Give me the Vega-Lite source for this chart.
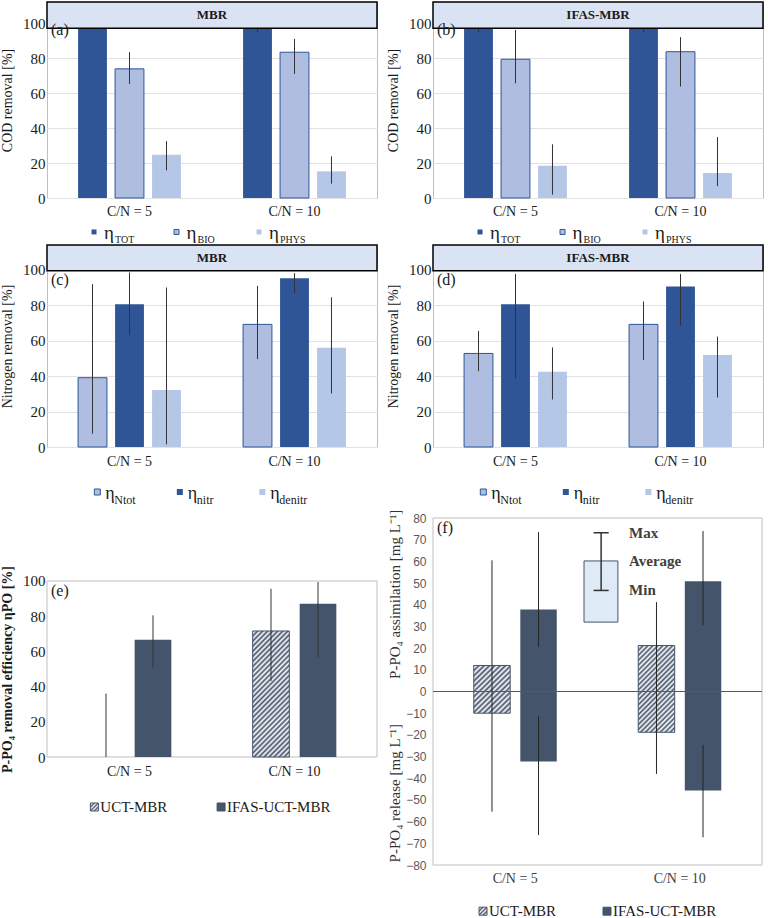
{
"$schema": "https://vega.github.io/schema/vega-lite/v6.json",
"padding": {"left": 0, "top": 0, "right": 0, "bottom": 0},
"background": "#ffffff",
"config": {
  "view": {"stroke": "#bfbfbf", "strokeWidth": 1},
  "axis": {"labelFont": "Liberation Serif", "labelFontSize": 15, "labelColor": "#1a1a1a", "titleFont": "Liberation Serif", "titleFontSize": 14, "titleFontWeight": "normal", "titleColor": "#1a1a1a", "ticks": false, "domain": false, "gridColor": "#e2e2e2", "labelOverlap": false, "labelFlush": false},
  "axisX": {"labelFontSize": 14, "labelAngle": 0, "grid": false},
  "text": {"font": "Liberation Serif", "color": "#1a1a1a"},
  "title": {"font": "Liberation Serif", "fontSize": 16, "fontWeight": "normal", "color": "#1a1a1a", "anchor": "start", "frame": "group", "baseline": "alphabetic", "dx": 4}
},
"datasets": {
  "cod": [
    {"reactor":"MBR","cn":"C/N = 5","series":"TOT","value":98.0,"lo":96.5,"hi":99.5},
    {"reactor":"MBR","cn":"C/N = 5","series":"BIO","value":73.8,"lo":65.2,"hi":83.3},
    {"reactor":"MBR","cn":"C/N = 5","series":"PHYS","value":24.7,"lo":15.8,"hi":32.5},
    {"reactor":"MBR","cn":"C/N = 10","series":"TOT","value":98.0,"lo":94.7,"hi":99.8},
    {"reactor":"MBR","cn":"C/N = 10","series":"BIO","value":83.3,"lo":70.9,"hi":90.9},
    {"reactor":"MBR","cn":"C/N = 10","series":"PHYS","value":15.2,"lo":8.2,"hi":23.8},
    {"reactor":"IFAS-MBR","cn":"C/N = 5","series":"TOT","value":98.5,"lo":94.7,"hi":100},
    {"reactor":"IFAS-MBR","cn":"C/N = 5","series":"BIO","value":79.3,"lo":65.5,"hi":96.0},
    {"reactor":"IFAS-MBR","cn":"C/N = 5","series":"PHYS","value":18.5,"lo":1.9,"hi":30.7},
    {"reactor":"IFAS-MBR","cn":"C/N = 10","series":"TOT","value":98.5,"lo":94.7,"hi":100},
    {"reactor":"IFAS-MBR","cn":"C/N = 10","series":"BIO","value":83.6,"lo":63.7,"hi":91.9},
    {"reactor":"IFAS-MBR","cn":"C/N = 10","series":"PHYS","value":14.3,"lo":6.8,"hi":34.8}
  ],
  "nitro": [
    {"reactor":"MBR","cn":"C/N = 5","series":"Ntot","value":39.1,"lo":7.5,"hi":91.9},
    {"reactor":"MBR","cn":"C/N = 5","series":"nitr","value":80.6,"lo":63.2,"hi":98.5},
    {"reactor":"MBR","cn":"C/N = 5","series":"denitr","value":32.1,"lo":1.5,"hi":90.0},
    {"reactor":"MBR","cn":"C/N = 10","series":"Ntot","value":69.2,"lo":49.6,"hi":90.9},
    {"reactor":"MBR","cn":"C/N = 10","series":"nitr","value":95.3,"lo":86.8,"hi":98.1},
    {"reactor":"MBR","cn":"C/N = 10","series":"denitr","value":56.0,"lo":30.2,"hi":84.5},
    {"reactor":"IFAS-MBR","cn":"C/N = 5","series":"Ntot","value":52.8,"lo":42.8,"hi":65.5},
    {"reactor":"IFAS-MBR","cn":"C/N = 5","series":"nitr","value":80.6,"lo":38.7,"hi":97.7},
    {"reactor":"IFAS-MBR","cn":"C/N = 5","series":"denitr","value":42.5,"lo":26.8,"hi":56.2},
    {"reactor":"IFAS-MBR","cn":"C/N = 10","series":"Ntot","value":69.2,"lo":49.1,"hi":82.1},
    {"reactor":"IFAS-MBR","cn":"C/N = 10","series":"nitr","value":90.6,"lo":68.3,"hi":97.7},
    {"reactor":"IFAS-MBR","cn":"C/N = 10","series":"denitr","value":51.9,"lo":27.9,"hi":62.3}
  ],
  "peff": [
    {"cn":"C/N = 5","series":"UCT-MBR","value":0,"lo":0,"hi":36.0},
    {"cn":"C/N = 5","series":"IFAS-UCT-MBR","value":66.6,"lo":50.7,"hi":80.5},
    {"cn":"C/N = 10","series":"UCT-MBR","value":71.6,"lo":43.2,"hi":95.6},
    {"cn":"C/N = 10","series":"IFAS-UCT-MBR","value":87.1,"lo":56.8,"hi":99.4}
  ],
  "pflux": [
    {"cn":"C/N = 5","series":"UCT-MBR","assim":12.0,"assimLo":0,"assimHi":60.5,"release":-10.0,"releaseLo":0,"releaseHi":-55.4},
    {"cn":"C/N = 5","series":"IFAS-UCT-MBR","assim":37.8,"assimLo":20.5,"assimHi":73.5,"release":-32.3,"releaseLo":-11.5,"releaseHi":-66.2},
    {"cn":"C/N = 10","series":"UCT-MBR","assim":21.2,"assimLo":0,"assimHi":41.2,"release":-18.8,"releaseLo":0,"releaseHi":-38.0},
    {"cn":"C/N = 10","series":"IFAS-UCT-MBR","assim":50.8,"assimLo":30.5,"assimHi":74.0,"release":-45.7,"releaseLo":-24.6,"releaseHi":-67.2}
  ],
  "key": [
    {"stat":"Max","v":73.2},
    {"stat":"Average","v":60.2,"base":32},
    {"stat":"Min","v":46.6}
  ]
},
"spacing": 7,
"resolve": {"scale": {"xOffset": "independent", "fill": "independent"}},
"hconcat": [
 {"bounds": "flush", "spacing": 47, "resolve": {"scale": {"xOffset": "independent", "fill": "independent"}}, "vconcat": [
   {
    "width": 330, "height": 196,
    "title": {"text": "(a)", "offset": -37},
    "layer": [
     {"data": {"name": "cod"}, "transform": [{"filter": "datum.reactor === 'MBR'"}],
      "layer": [
       {"mark": {"type": "bar", "strokeWidth": 1},
        "encoding": {
          "x": {"field": "cn", "type": "nominal", "scale": {"domain": ["C/N = 5", "C/N = 10"], "paddingInner": 0, "paddingOuter": 0}, "axis": {"title": null, "labelPadding": 6}},
          "xOffset": {"field": "series", "type": "nominal", "scale": {"domain": ["TOT","BIO","PHYS"], "paddingInner": 0.22, "paddingOuter": 0.84}},
          "y": {"field": "value", "type": "quantitative", "scale": {"domain": [0, 112], "nice": false}, "axis": {"values": [0,20,40,60,80,100], "tickCount": 30, "title": "COD removal [%]", "titlePadding": 8, "labelPadding": 2, "labelOverlap": false}},
          "fill": {"field": "series", "type": "nominal", "scale": {"domain": ["TOT","BIO","PHYS"], "range": ["#2f5597","#aebde0","#b4c7e7"]}, "legend": null},
          "stroke": {"condition": {"test": "datum.series === 'BIO'", "value": "#2f5597"}, "value": "transparent"}
        }},
       {"mark": {"type": "rule", "color": "#333333", "strokeWidth": 1},
        "encoding": {
          "x": {"field": "cn", "type": "nominal", "scale": {"domain": ["C/N = 5", "C/N = 10"]}},
          "xOffset": {"field": "series", "type": "nominal", "scale": {"domain": ["TOT","BIO","PHYS"]}},
          "y": {"field": "lo", "type": "quantitative"}, "y2": {"field": "hi"}
        }},
       {"transform": [{"aggregate": [{"op": "count", "as": "n"}], "groupby": ["reactor"]}],
        "layer": [
         {"mark": {"type": "rect", "fill": "#dae3f3", "stroke": "#000000", "strokeWidth": 1.5}, "encoding": {"y": {"datum": 97}, "y2": {"datum": 112}}},
         {"mark": {"type": "text", "fontWeight": "bold", "fontSize": 13, "baseline": "middle"}, "encoding": {"y": {"datum": 104.5}, "text": {"field": "reactor"}}}
        ]}
      ]},
     {"data": {"name": "cod"}, "transform": [{"filter": "datum.reactor === 'MBR' && datum.cn === 'C/N = 5'"}],
      "encoding": {
        "x": {"field": "series", "type": "nominal", "scale": {"type": "point", "domain": ["TOT","BIO","PHYS"], "padding": 1.268, "align": 0.285}, "axis": null},
        "y": {"datum": -19.4, "type": "quantitative", "scale": {"domain": [0, 112], "nice": false}, "axis": null}
      },
      "layer": [
       {"mark": {"type": "point", "shape": "square", "filled": true, "size": 25, "opacity": 1, "strokeWidth": 1},
        "encoding": {"fill": {"field": "series", "type": "nominal", "scale": {"domain": ["TOT","BIO","PHYS"], "range": ["#2f5597","#aebde0","#b4c7e7"]}, "legend": null},
                     "stroke": {"condition": {"test": "datum.series === 'BIO'", "value": "#2f5597"}, "value": "transparent"}}},
       {"mark": {"type": "text", "text": "η", "align": "left", "baseline": "alphabetic", "dx": 10, "dy": 7, "fontSize": 19}},
       {"mark": {"type": "text", "align": "left", "baseline": "alphabetic", "dx": 21, "dy": 11, "fontSize": 10}, "encoding": {"text": {"field": "series"}}}
      ]}
    ],
    "resolve": {"scale": {"x": "independent", "y": "independent"}}
   },
   {
    "width": 330, "height": 202,
    "title": {"text": "(c)", "offset": -44},
    "layer": [
     {"data": {"name": "nitro"}, "transform": [{"filter": "datum.reactor === 'MBR'"}],
      "layer": [
       {"mark": {"type": "bar", "strokeWidth": 1},
        "encoding": {
          "x": {"field": "cn", "type": "nominal", "scale": {"domain": ["C/N = 5", "C/N = 10"], "paddingInner": 0, "paddingOuter": 0}, "axis": {"title": null, "labelPadding": 7}},
          "xOffset": {"field": "series", "type": "nominal", "scale": {"domain": ["Ntot","nitr","denitr"], "paddingInner": 0.22, "paddingOuter": 0.84}},
          "y": {"field": "value", "type": "quantitative", "scale": {"domain": [0, 114], "nice": false}, "axis": {"values": [0,20,40,60,80,100], "tickCount": 30, "title": "Nitrogen removal [%]", "titlePadding": 8, "labelPadding": 2, "labelOverlap": false}},
          "fill": {"field": "series", "type": "nominal", "scale": {"domain": ["Ntot","nitr","denitr"], "range": ["#aebde0","#2f5597","#b4c7e7"]}, "legend": null},
          "stroke": {"condition": {"test": "datum.series === 'Ntot'", "value": "#2f5597"}, "value": "transparent"}
        }},
       {"mark": {"type": "rule", "color": "#333333", "strokeWidth": 1},
        "encoding": {
          "x": {"field": "cn", "type": "nominal", "scale": {"domain": ["C/N = 5", "C/N = 10"]}},
          "xOffset": {"field": "series", "type": "nominal", "scale": {"domain": ["Ntot","nitr","denitr"]}},
          "y": {"field": "lo", "type": "quantitative"}, "y2": {"field": "hi"}
        }},
       {"transform": [{"aggregate": [{"op": "count", "as": "n"}], "groupby": ["reactor"]}],
        "layer": [
         {"mark": {"type": "rect", "fill": "#dae3f3", "stroke": "#000000", "strokeWidth": 1.5}, "encoding": {"y": {"datum": 99.5}, "y2": {"datum": 114}}},
         {"mark": {"type": "text", "fontWeight": "bold", "fontSize": 13, "baseline": "middle"}, "encoding": {"y": {"datum": 106.75}, "text": {"field": "reactor"}}}
        ]}
      ]},
     {"data": {"name": "nitro"}, "transform": [{"filter": "datum.reactor === 'MBR' && datum.cn === 'C/N = 5'"}],
      "encoding": {
        "x": {"field": "series", "type": "nominal", "scale": {"type": "point", "domain": ["Ntot","nitr","denitr"], "padding": 1.157, "align": 0.305}, "axis": null},
        "y": {"datum": -25.4, "type": "quantitative", "scale": {"domain": [0, 114], "nice": false}, "axis": null}
      },
      "layer": [
       {"mark": {"type": "point", "shape": "square", "filled": true, "size": 36, "opacity": 1, "strokeWidth": 1},
        "encoding": {"fill": {"field": "series", "type": "nominal", "scale": {"domain": ["Ntot","nitr","denitr"], "range": ["#aebde0","#2f5597","#b4c7e7"]}, "legend": null},
                     "stroke": {"condition": {"test": "datum.series === 'Ntot'", "value": "#2f5597"}, "value": "transparent"}}},
       {"mark": {"type": "text", "text": "η", "align": "left", "baseline": "alphabetic", "dx": 8, "dy": 7, "fontSize": 18}},
       {"mark": {"type": "text", "align": "left", "baseline": "alphabetic", "dx": 17, "dy": 12, "fontSize": 12}, "encoding": {"text": {"field": "series"}}}
      ]}
    ],
    "resolve": {"scale": {"x": "independent", "y": "independent"}}
   },
  {
   "width": 330, "height": 263,
   "view": {"stroke": null},
   "title": {"text": "(e)", "offset": -105},
   "layer": [
    {"data": {"name": "peff"},
     "layer": [
      {"transform": [{"aggregate": [{"op": "count", "as": "n"}]}],
       "mark": {"type": "rect", "fill": "transparent", "stroke": "#bfbfbf", "strokeWidth": 1},
       "encoding": {"y": {"datum": 0}, "y2": {"datum": 100}}},
      {"transform": [{"filter": "datum.series === 'UCT-MBR'"}],
       "mark": {"type": "bar", "strokeWidth": 1,
         "fill": {"gradient": "linear", "x1": 0, "y1": 0, "x2": 0.35, "y2": 1.19, "stops": [{"offset":0,"color":"#44546a"},{"offset":0.015625,"color":"#ffffff"},{"offset":0.03125,"color":"#44546a"},{"offset":0.046875,"color":"#ffffff"},{"offset":0.0625,"color":"#44546a"},{"offset":0.078125,"color":"#ffffff"},{"offset":0.09375,"color":"#44546a"},{"offset":0.109375,"color":"#ffffff"},{"offset":0.125,"color":"#44546a"},{"offset":0.140625,"color":"#ffffff"},{"offset":0.15625,"color":"#44546a"},{"offset":0.171875,"color":"#ffffff"},{"offset":0.1875,"color":"#44546a"},{"offset":0.203125,"color":"#ffffff"},{"offset":0.21875,"color":"#44546a"},{"offset":0.234375,"color":"#ffffff"},{"offset":0.25,"color":"#44546a"},{"offset":0.265625,"color":"#ffffff"},{"offset":0.28125,"color":"#44546a"},{"offset":0.296875,"color":"#ffffff"},{"offset":0.3125,"color":"#44546a"},{"offset":0.328125,"color":"#ffffff"},{"offset":0.34375,"color":"#44546a"},{"offset":0.359375,"color":"#ffffff"},{"offset":0.375,"color":"#44546a"},{"offset":0.390625,"color":"#ffffff"},{"offset":0.40625,"color":"#44546a"},{"offset":0.421875,"color":"#ffffff"},{"offset":0.4375,"color":"#44546a"},{"offset":0.453125,"color":"#ffffff"},{"offset":0.46875,"color":"#44546a"},{"offset":0.484375,"color":"#ffffff"},{"offset":0.5,"color":"#44546a"},{"offset":0.515625,"color":"#ffffff"},{"offset":0.53125,"color":"#44546a"},{"offset":0.546875,"color":"#ffffff"},{"offset":0.5625,"color":"#44546a"},{"offset":0.578125,"color":"#ffffff"},{"offset":0.59375,"color":"#44546a"},{"offset":0.609375,"color":"#ffffff"},{"offset":0.625,"color":"#44546a"},{"offset":0.640625,"color":"#ffffff"},{"offset":0.65625,"color":"#44546a"},{"offset":0.671875,"color":"#ffffff"},{"offset":0.6875,"color":"#44546a"},{"offset":0.703125,"color":"#ffffff"},{"offset":0.71875,"color":"#44546a"},{"offset":0.734375,"color":"#ffffff"},{"offset":0.75,"color":"#44546a"},{"offset":0.765625,"color":"#ffffff"},{"offset":0.78125,"color":"#44546a"},{"offset":0.796875,"color":"#ffffff"},{"offset":0.8125,"color":"#44546a"},{"offset":0.828125,"color":"#ffffff"},{"offset":0.84375,"color":"#44546a"},{"offset":0.859375,"color":"#ffffff"},{"offset":0.875,"color":"#44546a"},{"offset":0.890625,"color":"#ffffff"},{"offset":0.90625,"color":"#44546a"},{"offset":0.921875,"color":"#ffffff"},{"offset":0.9375,"color":"#44546a"},{"offset":0.953125,"color":"#ffffff"},{"offset":0.96875,"color":"#44546a"},{"offset":0.984375,"color":"#ffffff"},{"offset":1,"color":"#44546a"}]}},
       "encoding": {
         "x": {"field": "cn", "type": "nominal", "scale": {"domain": ["C/N = 5", "C/N = 10"], "paddingInner": 0, "paddingOuter": 0}, "axis": {"title": null, "labelPadding": 7}},
         "xOffset": {"field": "series", "type": "nominal", "scale": {"domain": ["UCT-MBR","IFAS-UCT-MBR"], "paddingInner": 0.22, "paddingOuter": 0.865}},
         "y": {"field": "value", "type": "quantitative", "scale": {"domain": [0, 149.43], "nice": false}, "axis": {"values": [0,20,40,60,80,100], "tickCount": 30, "title": "P-PO₄ removal efficiency ηPO [%]", "titleFontWeight": "bold", "titlePadding": 8, "labelPadding": 2, "titleY": 175, "labelOverlap": false}},
         "stroke": {"condition": {"test": "datum.value > 0", "value": "#44546a"}, "value": "transparent"}
       }},
      {"transform": [{"filter": "datum.series === 'IFAS-UCT-MBR'"}],
       "mark": {"type": "bar", "fill": "#44546a"},
       "encoding": {
         "x": {"field": "cn", "type": "nominal", "scale": {"domain": ["C/N = 5", "C/N = 10"]}},
         "xOffset": {"field": "series", "type": "nominal", "scale": {"domain": ["UCT-MBR","IFAS-UCT-MBR"]}},
         "y": {"field": "value", "type": "quantitative"}
       }},
      {"mark": {"type": "rule", "color": "#333333", "strokeWidth": 1},
       "encoding": {
         "x": {"field": "cn", "type": "nominal", "scale": {"domain": ["C/N = 5", "C/N = 10"]}},
         "xOffset": {"field": "series", "type": "nominal", "scale": {"domain": ["UCT-MBR","IFAS-UCT-MBR"]}},
         "y": {"field": "lo", "type": "quantitative"}, "y2": {"field": "hi"}
       }}
     ]},
    {"data": {"name": "peff"}, "transform": [{"filter": "datum.cn === 'C/N = 5'"}],
     "encoding": {
       "x": {"field": "series", "type": "nominal", "scale": {"type": "point", "domain": ["UCT-MBR","IFAS-UCT-MBR"], "padding": 0.802, "align": 0.233}, "axis": null},
       "y": {"datum": -28.4, "type": "quantitative", "scale": {"domain": [0, 149.43], "nice": false}, "axis": null}
     },
     "layer": [
      {"mark": {"type": "point", "shape": "square", "filled": true, "size": 64, "opacity": 1, "stroke": "#44546a", "strokeWidth": 1},
       "encoding": {"fill": {"condition": {"test": "datum.series === 'UCT-MBR'", "value": {"gradient": "linear", "x1": 0, "y1": 0, "x2": 1, "y2": 1, "stops": [{"offset":0,"color":"#44546a"},{"offset":0.125,"color":"#ffffff"},{"offset":0.25,"color":"#44546a"},{"offset":0.375,"color":"#ffffff"},{"offset":0.5,"color":"#44546a"},{"offset":0.625,"color":"#ffffff"},{"offset":0.75,"color":"#44546a"},{"offset":0.875,"color":"#ffffff"},{"offset":1,"color":"#44546a"}]}}, "value": "#44546a"}}},
      {"mark": {"type": "text", "align": "left", "baseline": "middle", "dx": 6, "fontSize": 15}, "encoding": {"text": {"field": "series"}}}
     ]}
   ],
   "resolve": {"scale": {"x": "independent", "y": "independent"}}
  }
 ]},
 {"bounds": "flush", "spacing": 47, "resolve": {"scale": {"xOffset": "independent", "fill": "independent"}}, "vconcat": [
   {
    "width": 330, "height": 196,
    "title": {"text": "(b)", "offset": -37},
    "layer": [
     {"data": {"name": "cod"}, "transform": [{"filter": "datum.reactor === 'IFAS-MBR'"}],
      "layer": [
       {"mark": {"type": "bar", "strokeWidth": 1},
        "encoding": {
          "x": {"field": "cn", "type": "nominal", "scale": {"domain": ["C/N = 5", "C/N = 10"], "paddingInner": 0, "paddingOuter": 0}, "axis": {"title": null, "labelPadding": 6}},
          "xOffset": {"field": "series", "type": "nominal", "scale": {"domain": ["TOT","BIO","PHYS"], "paddingInner": 0.22, "paddingOuter": 0.84}},
          "y": {"field": "value", "type": "quantitative", "scale": {"domain": [0, 112], "nice": false}, "axis": {"values": [0,20,40,60,80,100], "tickCount": 30, "title": "COD removal [%]", "titlePadding": 8, "labelPadding": 2, "labelOverlap": false}},
          "fill": {"field": "series", "type": "nominal", "scale": {"domain": ["TOT","BIO","PHYS"], "range": ["#2f5597","#aebde0","#b4c7e7"]}, "legend": null},
          "stroke": {"condition": {"test": "datum.series === 'BIO'", "value": "#2f5597"}, "value": "transparent"}
        }},
       {"mark": {"type": "rule", "color": "#333333", "strokeWidth": 1},
        "encoding": {
          "x": {"field": "cn", "type": "nominal", "scale": {"domain": ["C/N = 5", "C/N = 10"]}},
          "xOffset": {"field": "series", "type": "nominal", "scale": {"domain": ["TOT","BIO","PHYS"]}},
          "y": {"field": "lo", "type": "quantitative"}, "y2": {"field": "hi"}
        }},
       {"transform": [{"aggregate": [{"op": "count", "as": "n"}], "groupby": ["reactor"]}],
        "layer": [
         {"mark": {"type": "rect", "fill": "#dae3f3", "stroke": "#000000", "strokeWidth": 1.5}, "encoding": {"y": {"datum": 97}, "y2": {"datum": 112}}},
         {"mark": {"type": "text", "fontWeight": "bold", "fontSize": 13, "baseline": "middle"}, "encoding": {"y": {"datum": 104.5}, "text": {"field": "reactor"}}}
        ]}
      ]},
     {"data": {"name": "cod"}, "transform": [{"filter": "datum.reactor === 'IFAS-MBR' && datum.cn === 'C/N = 5'"}],
      "encoding": {
        "x": {"field": "series", "type": "nominal", "scale": {"type": "point", "domain": ["TOT","BIO","PHYS"], "padding": 1.268, "align": 0.285}, "axis": null},
        "y": {"datum": -19.4, "type": "quantitative", "scale": {"domain": [0, 112], "nice": false}, "axis": null}
      },
      "layer": [
       {"mark": {"type": "point", "shape": "square", "filled": true, "size": 25, "opacity": 1, "strokeWidth": 1},
        "encoding": {"fill": {"field": "series", "type": "nominal", "scale": {"domain": ["TOT","BIO","PHYS"], "range": ["#2f5597","#aebde0","#b4c7e7"]}, "legend": null},
                     "stroke": {"condition": {"test": "datum.series === 'BIO'", "value": "#2f5597"}, "value": "transparent"}}},
       {"mark": {"type": "text", "text": "η", "align": "left", "baseline": "alphabetic", "dx": 10, "dy": 7, "fontSize": 19}},
       {"mark": {"type": "text", "align": "left", "baseline": "alphabetic", "dx": 21, "dy": 11, "fontSize": 10}, "encoding": {"text": {"field": "series"}}}
      ]}
    ],
    "resolve": {"scale": {"x": "independent", "y": "independent"}}
   },
   {
    "width": 330, "height": 202,
    "title": {"text": "(d)", "offset": -44},
    "layer": [
     {"data": {"name": "nitro"}, "transform": [{"filter": "datum.reactor === 'IFAS-MBR'"}],
      "layer": [
       {"mark": {"type": "bar", "strokeWidth": 1},
        "encoding": {
          "x": {"field": "cn", "type": "nominal", "scale": {"domain": ["C/N = 5", "C/N = 10"], "paddingInner": 0, "paddingOuter": 0}, "axis": {"title": null, "labelPadding": 7}},
          "xOffset": {"field": "series", "type": "nominal", "scale": {"domain": ["Ntot","nitr","denitr"], "paddingInner": 0.22, "paddingOuter": 0.84}},
          "y": {"field": "value", "type": "quantitative", "scale": {"domain": [0, 114], "nice": false}, "axis": {"values": [0,20,40,60,80,100], "tickCount": 30, "title": "Nitrogen removal [%]", "titlePadding": 8, "labelPadding": 2, "labelOverlap": false}},
          "fill": {"field": "series", "type": "nominal", "scale": {"domain": ["Ntot","nitr","denitr"], "range": ["#aebde0","#2f5597","#b4c7e7"]}, "legend": null},
          "stroke": {"condition": {"test": "datum.series === 'Ntot'", "value": "#2f5597"}, "value": "transparent"}
        }},
       {"mark": {"type": "rule", "color": "#333333", "strokeWidth": 1},
        "encoding": {
          "x": {"field": "cn", "type": "nominal", "scale": {"domain": ["C/N = 5", "C/N = 10"]}},
          "xOffset": {"field": "series", "type": "nominal", "scale": {"domain": ["Ntot","nitr","denitr"]}},
          "y": {"field": "lo", "type": "quantitative"}, "y2": {"field": "hi"}
        }},
       {"transform": [{"aggregate": [{"op": "count", "as": "n"}], "groupby": ["reactor"]}],
        "layer": [
         {"mark": {"type": "rect", "fill": "#dae3f3", "stroke": "#000000", "strokeWidth": 1.5}, "encoding": {"y": {"datum": 99.5}, "y2": {"datum": 114}}},
         {"mark": {"type": "text", "fontWeight": "bold", "fontSize": 13, "baseline": "middle"}, "encoding": {"y": {"datum": 106.75}, "text": {"field": "reactor"}}}
        ]}
      ]},
     {"data": {"name": "nitro"}, "transform": [{"filter": "datum.reactor === 'IFAS-MBR' && datum.cn === 'C/N = 5'"}],
      "encoding": {
        "x": {"field": "series", "type": "nominal", "scale": {"type": "point", "domain": ["Ntot","nitr","denitr"], "padding": 1.157, "align": 0.305}, "axis": null},
        "y": {"datum": -25.4, "type": "quantitative", "scale": {"domain": [0, 114], "nice": false}, "axis": null}
      },
      "layer": [
       {"mark": {"type": "point", "shape": "square", "filled": true, "size": 36, "opacity": 1, "strokeWidth": 1},
        "encoding": {"fill": {"field": "series", "type": "nominal", "scale": {"domain": ["Ntot","nitr","denitr"], "range": ["#aebde0","#2f5597","#b4c7e7"]}, "legend": null},
                     "stroke": {"condition": {"test": "datum.series === 'Ntot'", "value": "#2f5597"}, "value": "transparent"}}},
       {"mark": {"type": "text", "text": "η", "align": "left", "baseline": "alphabetic", "dx": 8, "dy": 7, "fontSize": 18}},
       {"mark": {"type": "text", "align": "left", "baseline": "alphabetic", "dx": 17, "dy": 12, "fontSize": 12}, "encoding": {"text": {"field": "series"}}}
      ]}
    ],
    "resolve": {"scale": {"x": "independent", "y": "independent"}}
   },
  {
   "width": 329, "height": 371,
   "view": {"stroke": null},
   "title": {"text": "(f)", "offset": -42},
   "layer": [
    {"data": {"name": "pflux"},
     "layer": [
      {"transform": [{"aggregate": [{"op": "count", "as": "n"}]}],
       "mark": {"type": "rect", "fill": "transparent", "stroke": "#bfbfbf", "strokeWidth": 1},
       "encoding": {"y": {"datum": -80}, "y2": {"datum": 80}}},
      {"transform": [{"filter": "datum.series === 'UCT-MBR'"}],
       "mark": {"type": "bar", "stroke": "#44546a", "strokeWidth": 1},
       "encoding": {
         "x": {"field": "cn", "type": "nominal", "scale": {"domain": ["C/N = 5", "C/N = 10"], "paddingInner": 0, "paddingOuter": 0}, "axis": {"title": null, "labelPadding": 6, "labelColor": "#404040"}},
         "xOffset": {"field": "series", "type": "nominal", "scale": {"domain": ["UCT-MBR","IFAS-UCT-MBR"], "paddingInner": 0.217, "paddingOuter": 0.875}},
         "y": {"field": "release", "type": "quantitative", "scale": {"domain": [-80, 91.07], "nice": false}, "axis": {"values": [-80,-70,-60,-50,-40,-30,-20,-10,0,10,20,30,40,50,60,70,80], "tickCount": 50, "title": "P-PO₄ release [mg L⁻¹]\u2003\u2003\u2003P-PO₄ assimilation [mg L⁻¹]", "titlePadding": 3, "labelPadding": 7, "labelFont": "Liberation Sans", "labelFontSize": 12, "labelColor": "#595959", "titleColor": "#333333", "titleFontSize": 15, "gridColor": "#d9d9d9", "titleY": 191.5, "labelOverlap": false}},
         "y2": {"field": "assim"},
         "fill": {"condition": {"test": "datum.cn === 'C/N = 5'", "value": {"gradient": "linear", "x1": 0, "y1": 0, "x2": 0.84, "y2": 1.12, "stops": [{"offset":0,"color":"#44546a"},{"offset":0.03125,"color":"#ffffff"},{"offset":0.0625,"color":"#44546a"},{"offset":0.09375,"color":"#ffffff"},{"offset":0.125,"color":"#44546a"},{"offset":0.15625,"color":"#ffffff"},{"offset":0.1875,"color":"#44546a"},{"offset":0.21875,"color":"#ffffff"},{"offset":0.25,"color":"#44546a"},{"offset":0.28125,"color":"#ffffff"},{"offset":0.3125,"color":"#44546a"},{"offset":0.34375,"color":"#ffffff"},{"offset":0.375,"color":"#44546a"},{"offset":0.40625,"color":"#ffffff"},{"offset":0.4375,"color":"#44546a"},{"offset":0.46875,"color":"#ffffff"},{"offset":0.5,"color":"#44546a"},{"offset":0.53125,"color":"#ffffff"},{"offset":0.5625,"color":"#44546a"},{"offset":0.59375,"color":"#ffffff"},{"offset":0.625,"color":"#44546a"},{"offset":0.65625,"color":"#ffffff"},{"offset":0.6875,"color":"#44546a"},{"offset":0.71875,"color":"#ffffff"},{"offset":0.75,"color":"#44546a"},{"offset":0.78125,"color":"#ffffff"},{"offset":0.8125,"color":"#44546a"},{"offset":0.84375,"color":"#ffffff"},{"offset":0.875,"color":"#44546a"},{"offset":0.90625,"color":"#ffffff"},{"offset":0.9375,"color":"#44546a"},{"offset":0.96875,"color":"#ffffff"},{"offset":1,"color":"#44546a"}]}},
                  "value": {"gradient": "linear", "x1": 0, "y1": 0, "x2": 0.51, "y2": 1.21, "stops": [{"offset":0,"color":"#44546a"},{"offset":0.02,"color":"#ffffff"},{"offset":0.04,"color":"#44546a"},{"offset":0.06,"color":"#ffffff"},{"offset":0.08,"color":"#44546a"},{"offset":0.1,"color":"#ffffff"},{"offset":0.12,"color":"#44546a"},{"offset":0.14,"color":"#ffffff"},{"offset":0.16,"color":"#44546a"},{"offset":0.18,"color":"#ffffff"},{"offset":0.2,"color":"#44546a"},{"offset":0.22,"color":"#ffffff"},{"offset":0.24,"color":"#44546a"},{"offset":0.26,"color":"#ffffff"},{"offset":0.28,"color":"#44546a"},{"offset":0.3,"color":"#ffffff"},{"offset":0.32,"color":"#44546a"},{"offset":0.34,"color":"#ffffff"},{"offset":0.36,"color":"#44546a"},{"offset":0.38,"color":"#ffffff"},{"offset":0.4,"color":"#44546a"},{"offset":0.42,"color":"#ffffff"},{"offset":0.44,"color":"#44546a"},{"offset":0.46,"color":"#ffffff"},{"offset":0.48,"color":"#44546a"},{"offset":0.5,"color":"#ffffff"},{"offset":0.52,"color":"#44546a"},{"offset":0.54,"color":"#ffffff"},{"offset":0.56,"color":"#44546a"},{"offset":0.58,"color":"#ffffff"},{"offset":0.6,"color":"#44546a"},{"offset":0.62,"color":"#ffffff"},{"offset":0.64,"color":"#44546a"},{"offset":0.66,"color":"#ffffff"},{"offset":0.68,"color":"#44546a"},{"offset":0.7,"color":"#ffffff"},{"offset":0.72,"color":"#44546a"},{"offset":0.74,"color":"#ffffff"},{"offset":0.76,"color":"#44546a"},{"offset":0.78,"color":"#ffffff"},{"offset":0.8,"color":"#44546a"},{"offset":0.82,"color":"#ffffff"},{"offset":0.84,"color":"#44546a"},{"offset":0.86,"color":"#ffffff"},{"offset":0.88,"color":"#44546a"},{"offset":0.9,"color":"#ffffff"},{"offset":0.92,"color":"#44546a"},{"offset":0.94,"color":"#ffffff"},{"offset":0.96,"color":"#44546a"},{"offset":0.98,"color":"#ffffff"},{"offset":1,"color":"#44546a"}]}}
       }},
      {"transform": [{"filter": "datum.series === 'IFAS-UCT-MBR'"}],
       "mark": {"type": "bar", "fill": "#44546a"},
       "encoding": {
         "x": {"field": "cn", "type": "nominal", "scale": {"domain": ["C/N = 5", "C/N = 10"]}},
         "xOffset": {"field": "series", "type": "nominal", "scale": {"domain": ["UCT-MBR","IFAS-UCT-MBR"]}},
         "y": {"field": "release", "type": "quantitative"}, "y2": {"field": "assim"}
       }},
      {"transform": [{"aggregate": [{"op": "count", "as": "n"}]}],
       "mark": {"type": "rule", "color": "#595959", "strokeWidth": 1},
       "encoding": {"y": {"datum": 0}}},
      {"mark": {"type": "rule", "color": "#262626", "strokeWidth": 1},
       "encoding": {
         "x": {"field": "cn", "type": "nominal", "scale": {"domain": ["C/N = 5", "C/N = 10"]}},
         "xOffset": {"field": "series", "type": "nominal", "scale": {"domain": ["UCT-MBR","IFAS-UCT-MBR"]}},
         "y": {"field": "assimLo", "type": "quantitative"}, "y2": {"field": "assimHi"}
       }},
      {"mark": {"type": "rule", "color": "#262626", "strokeWidth": 1},
       "encoding": {
         "x": {"field": "cn", "type": "nominal", "scale": {"domain": ["C/N = 5", "C/N = 10"]}},
         "xOffset": {"field": "series", "type": "nominal", "scale": {"domain": ["UCT-MBR","IFAS-UCT-MBR"]}},
         "y": {"field": "releaseLo", "type": "quantitative"}, "y2": {"field": "releaseHi"}
       }}
     ]},
    {"data": {"name": "pflux"}, "transform": [{"filter": "datum.cn === 'C/N = 5'"}],
     "encoding": {
       "x": {"field": "series", "type": "nominal", "scale": {"type": "point", "domain": ["UCT-MBR","IFAS-UCT-MBR"], "padding": 0.827, "align": 0.244}, "axis": null},
       "y": {"datum": -101.3, "type": "quantitative", "scale": {"domain": [-80, 91.07], "nice": false}, "axis": null}
     },
     "layer": [
      {"mark": {"type": "point", "shape": "square", "filled": true, "size": 64, "opacity": 1, "stroke": "#44546a", "strokeWidth": 1},
       "encoding": {"fill": {"condition": {"test": "datum.series === 'UCT-MBR'", "value": {"gradient": "linear", "x1": 0, "y1": 0, "x2": 1, "y2": 1, "stops": [{"offset":0,"color":"#44546a"},{"offset":0.125,"color":"#ffffff"},{"offset":0.25,"color":"#44546a"},{"offset":0.375,"color":"#ffffff"},{"offset":0.5,"color":"#44546a"},{"offset":0.625,"color":"#ffffff"},{"offset":0.75,"color":"#44546a"},{"offset":0.875,"color":"#ffffff"},{"offset":1,"color":"#44546a"}]}}, "value": "#44546a"}}},
      {"mark": {"type": "text", "align": "left", "baseline": "middle", "dx": 6, "fontSize": 15}, "encoding": {"text": {"field": "series"}}}
     ]},
    {"data": {"name": "key"},
     "layer": [
      {"transform": [{"filter": "datum.stat === 'Average'"}],
       "mark": {"type": "bar", "fill": "#deebf7", "stroke": "#44546a", "strokeWidth": 1},
       "encoding": {
         "x": {"datum": 0.459, "type": "quantitative", "scale": {"domain": [0, 1]}, "axis": null},
         "x2": {"datum": 0.562},
         "y": {"field": "base", "type": "quantitative", "scale": {"domain": [-80, 91.07], "nice": false}, "axis": null}, "y2": {"field": "v"}
       }},
      {"transform": [{"aggregate": [{"op": "min", "field": "v", "as": "lo"}, {"op": "max", "field": "v", "as": "hi"}]}],
       "mark": {"type": "rule", "color": "#333333", "strokeWidth": 1.5},
       "encoding": {
         "x": {"datum": 0.511, "type": "quantitative", "scale": {"domain": [0, 1]}, "axis": null},
         "y": {"field": "lo", "type": "quantitative", "scale": {"domain": [-80, 91.07], "nice": false}, "axis": null}, "y2": {"field": "hi"}
       }},
      {"transform": [{"filter": "datum.stat !== 'Average'"}],
       "mark": {"type": "rule", "color": "#333333", "strokeWidth": 1.5},
       "encoding": {
         "x": {"datum": 0.488, "type": "quantitative", "scale": {"domain": [0, 1]}, "axis": null},
         "x2": {"datum": 0.534},
         "y": {"field": "v", "type": "quantitative", "scale": {"domain": [-80, 91.07], "nice": false}, "axis": null}
       }},
      {"mark": {"type": "text", "align": "left", "baseline": "middle", "fontSize": 15, "fontWeight": 600, "color": "#404040"},
       "encoding": {
         "x": {"datum": 0.596, "type": "quantitative", "scale": {"domain": [0, 1]}, "axis": null},
         "y": {"field": "v", "type": "quantitative", "scale": {"domain": [-80, 91.07], "nice": false}, "axis": null},
         "text": {"field": "stat"}
       }}
     ]}
   ],
   "resolve": {"scale": {"x": "independent", "y": "independent"}}
  }
 ]}
]
}
